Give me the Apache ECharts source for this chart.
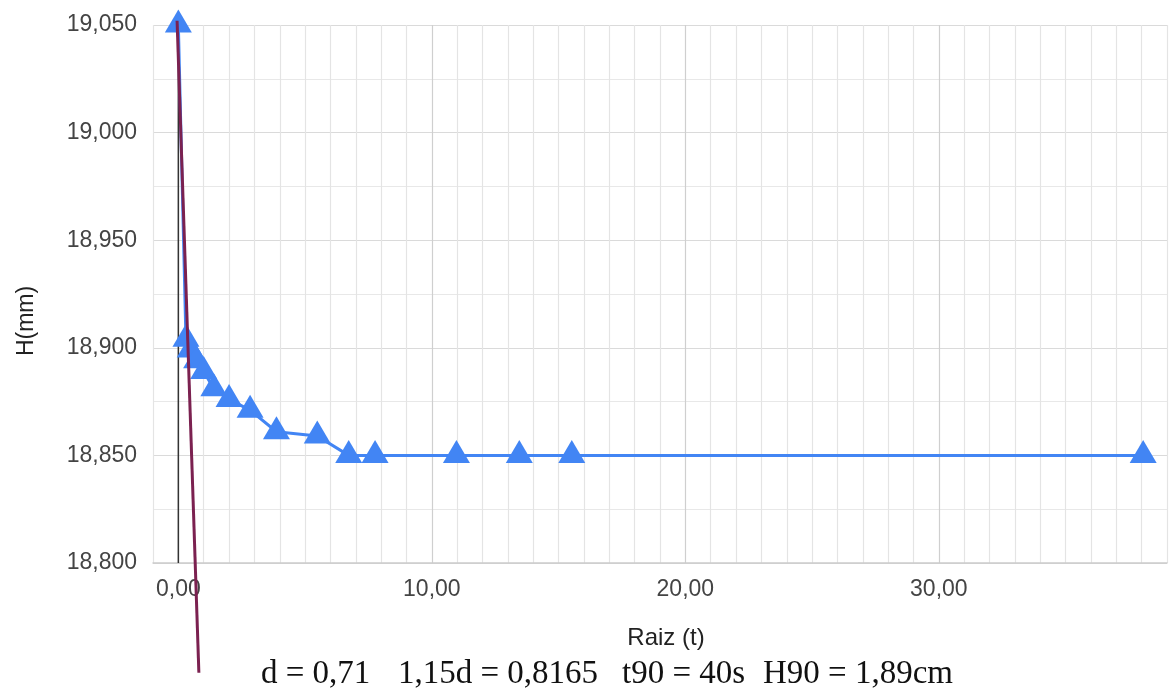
<!DOCTYPE html>
<html>
<head>
<meta charset="utf-8">
<script src="https://cdn.jsdelivr.net/npm/echarts@6/dist/echarts.min.js"></script>
<style>
html,body{margin:0;padding:0;background:#fff;}
#chart{width:1170px;height:694px;}
</style>
</head>
<body>
<div id="chart"></div>
<script>
// ---- data ----
const rootT    = [0, 0.30, 0.47, 0.72, 1.0, 1.40, 2.0, 2.83, 3.87, 5.48, 6.72, 7.76, 10.97, 13.45, 15.52, 38.06];
const heightMm = [19.05, 18.904, 18.899, 18.894, 18.889, 18.881, 18.876, 18.871, 18.861, 18.859, 18.85, 18.85, 18.85, 18.85, 18.85, 18.85];
const tangentX = [-0.05, 0.81];
const tangentY = [19.052, 18.749];
const zeroLineX = [0, 0];
const zeroLineY = [18.8, 19.05];
const xMajorTicks = [0, 10, 20, 30];
const yMajorTicks = [18.8, 18.85, 18.9, 18.95, 19.0, 19.05];
const notes = ['d = 0,71', '1,15d = 0,8165', 't90 = 40s', 'H90 = 1,89cm'];

const zip = (a, b) => a.map((v, i) => [v, b[i]]);
const fmtComma = (v, d) => v.toFixed(d).replace('.', ',');

const xSplitColors = [];
for (let i = 0; i < 10; i++) xSplitColors.push(i === 1 ? '#cfcfcf' : '#e4e4e4');

const notePos = [261, 398, 622, 763];

const chart = echarts.init(document.getElementById('chart'));
chart.setOption({
  animation: false,
  backgroundColor: '#fff',
  grid: { left: 153, right: 0, top: 25, bottom: 131 },
  xAxis: {
    type: 'value', min: -1, max: 39, interval: 1,
    axisLine: { show: true, lineStyle: { color: '#cccccc', width: 1.5 } },
    axisTick: { show: false },
    splitLine: { show: true, lineStyle: { color: xSplitColors, width: 1.2 } },
    axisLabel: {
      margin: 15, fontSize: 23, color: '#444', fontFamily: 'Liberation Sans',
      formatter: v => xMajorTicks.some(t => Math.abs(t - v) < 1e-6) ? fmtComma(v, 2) : ''
    },
    name: 'Raiz (t)', nameLocation: 'middle', nameGap: 63,
    nameTextStyle: { fontSize: 24, color: '#222', fontFamily: 'Liberation Sans', padding: [0, 0, 0, 12] }
  },
  yAxis: {
    type: 'value', min: 18.8, max: 19.05, interval: 0.025,
    axisLine: { show: false },
    axisTick: { show: false },
    splitLine: { show: true, lineStyle: { color: ['#dadada', '#e8e8e8'], width: 1.2 } },
    axisLabel: {
      margin: 16, fontSize: 23, color: '#444', fontFamily: 'Liberation Sans',
      formatter: v => yMajorTicks.some(t => Math.abs(t - v) < 1e-6) ? fmtComma(v, 3) : ''
    },
    name: 'H(mm)', nameLocation: 'middle', nameGap: 115,
    nameTextStyle: { fontSize: 23, color: '#222', fontFamily: 'Liberation Sans', padding: [0, 54, 0, 0] }
  },
  series: [
    {
      type: 'line', data: zip(zeroLineX, zeroLineY), symbol: 'none', silent: true, z: 1,
      lineStyle: { color: '#333', width: 1.5 }
    },
    {
      type: 'line', data: zip(rootT, heightMm), z: 3,
      symbol: 'triangle', symbolSize: [27, 23], symbolOffset: [0, '-17%'],
      itemStyle: { color: '#4285f4' },
      lineStyle: { color: '#4285f4', width: 3 }
    },
    {
      type: 'line', data: zip(tangentX, tangentY), clip: false, symbol: 'none', silent: true, z: 4,
      lineStyle: { color: '#7b2150', width: 3 }
    }
  ],
  graphic: notes.map((t, i) => ({
    type: 'text', x: notePos[i], y: 674, z: 10,
    style: { text: t, font: '33px "Liberation Serif"', fill: '#111', verticalAlign: 'middle' }
  }))
});
</script>
</body>
</html>
